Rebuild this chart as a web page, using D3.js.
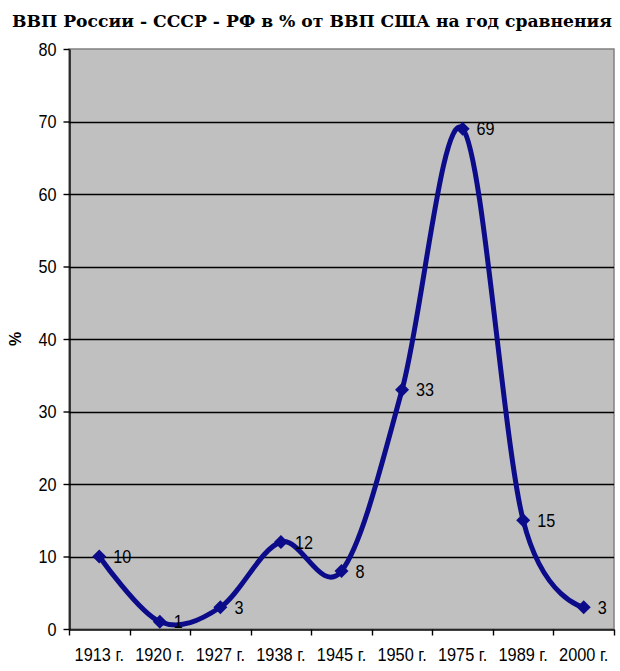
<!DOCTYPE html>
<html><head><meta charset="utf-8">
<script src="https://cdn.jsdelivr.net/npm/d3@7"></script>
<style>body{margin:0;background:#fff;}svg{display:block;}</style>
</head><body>
<script>
const categories = ["1913 г.","1920 г.","1927 г.","1938 г.","1945 г.","1950 г.","1975 г.","1989 г.","2000 г."];
const values = [10, 1, 3, 12, 8, 33, 69, 15, 3];
const yTicks = [0,10,20,30,40,50,60,70,80];
const title = "ВВП России - СССР - РФ в % от ВВП США на год сравнения";
const yLabel = "%";

const W = 620, H = 671;
const m = {left: 69, right: 6, top: 49, bottom: 42};
const svg = d3.select("body").append("svg").attr("width", W).attr("height", H);
const x = d3.scaleBand().domain(categories).range([m.left, W - m.right]);
const y = d3.scaleLinear().domain([0, 80]).range([H - m.bottom, m.top]);
const font = "'Liberation Sans', Arial, sans-serif";
const navy = "#0c0c8a";

svg.append("rect").attr("x", m.left).attr("y", m.top)
  .attr("width", W - m.right - m.left).attr("height", H - m.bottom - m.top)
  .attr("fill", "#c0c0c0").attr("stroke", "#808080").attr("stroke-width", 1.5);

// gridlines
svg.append("g").selectAll("line").data(yTicks.filter(d => d > 0 && d < 80)).join("line")
  .attr("x1", m.left).attr("x2", W - m.right)
  .attr("y1", d => Math.round(y(d)) + 0.5).attr("y2", d => Math.round(y(d)) + 0.5)
  .attr("stroke", "#000").attr("stroke-width", 1.4);

// y axis
const ya = svg.append("g").attr("transform", `translate(${m.left + 0.5},0)`)
  .call(d3.axisLeft(y).tickValues(yTicks).tickSize(6).tickPadding(0).tickSizeOuter(0));
ya.select(".domain").attr("stroke", "#000").attr("stroke-width", 1.4);
ya.selectAll(".tick line").attr("stroke", "#000").attr("stroke-width", 1.4);
ya.selectAll("text").attr("font-family", font).attr("font-size", 18).attr("fill", "#000")
  .attr("x", 0).attr("dy", "0.36em")
  .attr("transform", "translate(-13,0) scale(0.9,1)");

// x axis
const xa = svg.append("g").attr("transform", `translate(0,${H - m.bottom + 0.5})`)
  .call(d3.axisBottom(x).tickSize(0).tickPadding(0).tickSizeOuter(0));
xa.select(".domain").attr("stroke", "#000").attr("stroke-width", 1.4);
xa.selectAll("text").attr("font-family", font).attr("font-size", 19).attr("fill", "#000")
  .attr("y", 0).attr("dy", 0).attr("transform", "translate(0,31) scale(0.86,1)");
// x ticks at category boundaries
const bounds = categories.map(c => x(c)).concat([x(categories[categories.length-1]) + x.bandwidth()]);
xa.append("g").selectAll("line").data(bounds).join("line")
  .attr("x1", d => Math.round(d) + 0.5).attr("x2", d => Math.round(d) + 0.5)
  .attr("y1", 0).attr("y2", 6).attr("stroke", "#000").attr("stroke-width", 1.4);

// line
const cx = (d, i) => x(categories[i]) + x.bandwidth() / 2;
const line = d3.line().x((d, i) => cx(d, i)).y(d => y(d)).curve(d3.curveCardinal.tension(0));
svg.append("path").datum(values).attr("d", line)
  .attr("fill", "none").attr("stroke", navy).attr("stroke-width", 5)
  .attr("stroke-linejoin", "round");

// markers
svg.append("g").selectAll("path").data(values).join("path")
  .attr("d", d3.symbol().type(d3.symbolDiamond2).size(125))
  .attr("transform", (d, i) => `translate(${cx(d, i)},${y(d)})`)
  .attr("fill", navy);

// data labels
svg.append("g").selectAll("text").data(values).join("text")
  .attr("x", 0).attr("y", 0)
  .attr("transform", (d, i) => `translate(${cx(d, i) + 14},${y(d) + 6.5}) scale(0.9,1)`)
  .attr("font-family", font).attr("font-size", 18).attr("fill", "#000")
  .text(d => d);

// title
svg.append("text").attr("x", 12).attr("y", 27)
  .attr("font-family", "'DejaVu Serif', 'Liberation Serif', serif")
  .attr("font-weight", "bold").attr("font-size", 16.5).attr("fill", "#000")
  .attr("textLength", 600).attr("lengthAdjust", "spacingAndGlyphs")
  .text(title);

// y label
svg.append("text").attr("transform", `translate(21,${(m.top + H - m.bottom) / 2}) rotate(-90)`)
  .attr("text-anchor", "middle").attr("font-family", font).attr("font-weight", "bold")
  .attr("font-size", 16).text(yLabel);
</script>
</body></html>
